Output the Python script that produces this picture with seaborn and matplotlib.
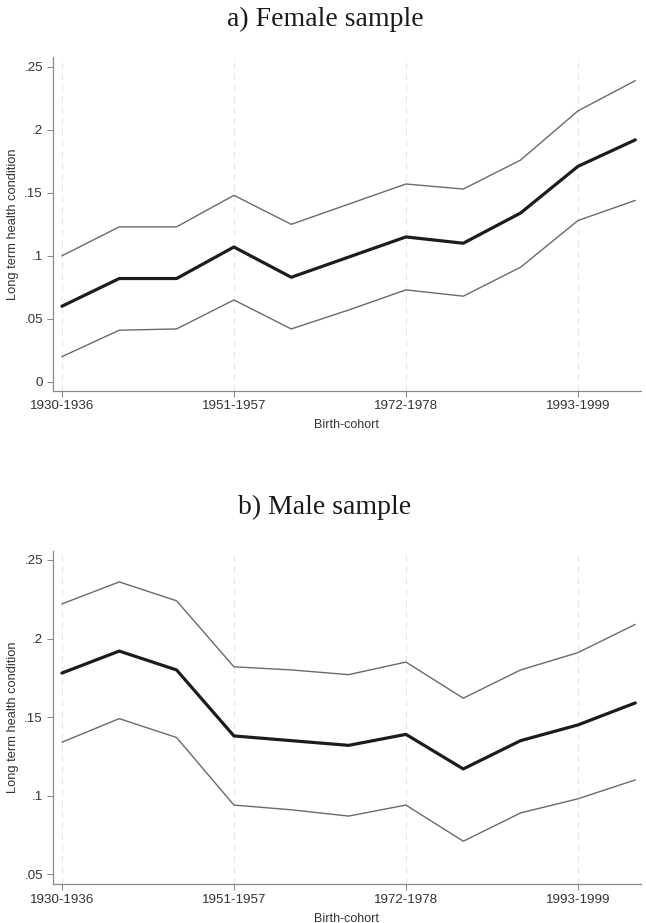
import matplotlib
matplotlib.use("Agg")
import matplotlib.pyplot as plt
import seaborn as sns
import numpy as np

cohorts = ["1930-1936", "1937-1943", "1944-1950", "1951-1957", "1958-1964",
           "1965-1971", "1972-1978", "1979-1985", "1986-1992", "1993-1999",
           "2000-2006"]

female_mean = [0.060, 0.082, 0.082, 0.107, 0.083, 0.099, 0.115, 0.110, 0.134, 0.171, 0.192]
female_upper = [0.100, 0.123, 0.123, 0.148, 0.125, 0.141, 0.157, 0.153, 0.176, 0.215, 0.239]
female_lower = [0.020, 0.041, 0.042, 0.065, 0.042, 0.057, 0.073, 0.068, 0.091, 0.128, 0.144]

male_mean = [0.178, 0.192, 0.180, 0.138, 0.135, 0.132, 0.139, 0.117, 0.135, 0.145, 0.159]
male_upper = [0.222, 0.236, 0.224, 0.182, 0.180, 0.177, 0.185, 0.162, 0.180, 0.191, 0.209]
male_lower = [0.134, 0.149, 0.137, 0.094, 0.091, 0.087, 0.094, 0.071, 0.089, 0.098, 0.110]

female_yticks = [0, 0.05, 0.10, 0.15, 0.20, 0.25]
male_yticks = [0.05, 0.10, 0.15, 0.20, 0.25]

sns.set_style("white")
plt.rcParams["font.family"] = ["Liberation Sans", "DejaVu Sans"]

fig = plt.figure(figsize=(6.46, 9.23), dpi=100)
ax1 = fig.add_axes([0.0816, 0.5767, 0.9107, 0.3612])
ax2 = fig.add_axes([0.0816, 0.0423, 0.9107, 0.3611])

idx = np.arange(len(cohorts))


def fmt(v):
    s = f"{v:.2f}".rstrip("0").rstrip(".")
    if s.startswith("0."):
        s = s[1:]
    return s


def draw(ax, mean, upper, lower, yticks, ylim):
    for ci in (upper, lower):
        sns.lineplot(x=idx, y=ci, ax=ax, color="#6a6a6a", linewidth=1.0)
    sns.lineplot(x=idx, y=mean, ax=ax, color="#1c1c1c", linewidth=2.3)
    ax.set_xlim(-0.16, 10.1)
    ax.set_ylim(*ylim)
    tick_pos = idx[::3]
    ax.set_xticks(tick_pos)
    ax.set_xticklabels([cohorts[i] for i in tick_pos])
    for t in tick_pos:
        ax.axvline(t, color="#e6e6e6", linewidth=0.8, linestyle=(0, (6, 4)), zorder=0)
    ax.set_yticks(yticks)
    ax.set_yticklabels([fmt(v) for v in yticks])
    for side in ("top", "right"):
        ax.spines[side].set_visible(False)
    for side in ("left", "bottom"):
        ax.spines[side].set_color("#8a8a8a")
        ax.spines[side].set_linewidth(0.9)
    ax.tick_params(axis="both", which="major", direction="out", length=4,
                   width=0.8, color="#8a8a8a", labelsize=9.6, labelcolor="#333333",
                   left=True, bottom=True, pad=3)
    ax.set_xlabel("Birth-cohort", fontsize=9, color="#333333", labelpad=5)
    ax.set_ylabel("Long term health condition", fontsize=9.3, color="#333333", labelpad=4)
    ax.grid(False)


draw(ax1, female_mean, female_upper, female_lower, female_yticks, (-0.007, 0.2575))
draw(ax2, male_mean, male_upper, male_lower, male_yticks, (0.0438, 0.2559))

title_font = dict(fontsize=20, family=["Liberation Serif", "DejaVu Serif"],
                  color="#1a1a1a", ha="center", va="center")
fig.text(0.503, 0.979, "a) Female sample", **title_font)
fig.text(0.503, 0.450, "b) Male sample", **title_font)

fig.savefig("out.png", dpi=100, facecolor="white")
